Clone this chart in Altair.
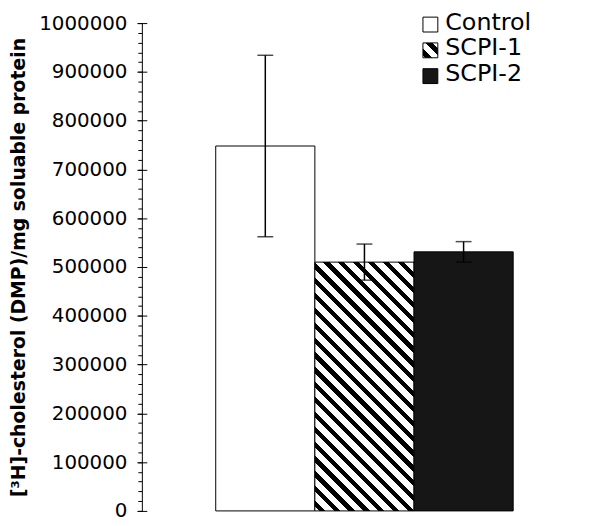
import math
import altair as alt
import pandas as pd

# ---- data ----
series = ["Control", "SCPI-1", "SCPI-2"]
means = [748000, 510000, 531000]
errors = [186000, 37000, 21000]
fills = ["#ffffff", "#ffffff", "#161616"]
major_ticks = [0, 100000, 200000, 300000, 400000, 500000, 600000, 700000, 800000, 900000, 1000000]
minor_ticks = list(range(0, 1000001, 20000))
y_title = "[³H]-cholesterol (DMP)/mg soluable protein"

W, H = 449, 492
BAR_W = 100
FONT = "DejaVu Sans"

df = pd.DataFrame({
    "group": ["all"] * len(series),
    "series": series,
    "mean": means,
    "lower": [m - e for m, e in zip(means, errors)],
    "upper": [m + e for m, e in zip(means, errors)],
})


def stripe_gradient(w, h, period, black_frac, phase):
    """Diagonal '\\' stripes built as a hard-stop linear gradient (bbox units)."""
    r = h / w
    a = (1 + r) / (1 + r * r)
    D = (w + h) / math.sqrt(2)
    pt = period / D
    clip = lambda v: min(max(v, 0.0), 1.0)
    stops = []
    s = phase / D - pt
    while s < 1:
        b1 = s + black_frac * pt
        e = s + pt
        for off, col in [(s, "black"), (b1, "black"), (b1, "white"), (e, "white")]:
            stops.append({"offset": round(clip(off), 5), "color": col})
        s += pt
    return {"gradient": "linear", "x1": 0, "y1": 1, "x2": round(a, 5),
            "y2": round(1 - a * r, 5), "stops": stops}


bar_h = means[1] / 1000000 * H
bar_grad = stripe_gradient(BAR_W, bar_h, 10.6, 0.42, 3)
leg_grad = stripe_gradient(15, 15, 10.6, 0.45, 2)

x_enc = alt.X("group:N", scale=alt.Scale(paddingInner=0, paddingOuter=0),
              axis=alt.Axis(title=None, labels=False, tickBand="extent", tickSize=5,
                            domainColor="black", tickColor="black", grid=False))
x_none = alt.X("group:N", axis=None)
xo = alt.XOffset("series:N", scale=alt.Scale(domain=series, paddingInner=0, paddingOuter=0.745))

yscale = alt.Scale(domain=[0, 1000000], nice=False, zero=True)
main_axis = alt.Axis(values=minor_ticks, tickSize=4, format="d",
                     labelExpr="datum.value % 100000 === 0 ? datum.label : ''",
                     labelFont=FONT, labelFontSize=20, labelColor="black",
                     labelPadding=11, labelOverlap=False,
                     title=y_title, titleFont=FONT, titleFontSize=19,
                     titleFontWeight="bold", titleColor="black", titlePadding=10,
                     domainColor="black", tickColor="black", grid=False)
cross_axis = alt.Axis(orient="left", offset=-5, values=major_ticks, tickSize=10,
                      labels=False, domain=False, title=None, grid=False,
                      tickColor="black")

base = alt.Chart(df)
bars = base.mark_bar(stroke="black", strokeWidth=1).encode(
    x=x_enc, xOffset=xo,
    y=alt.Y("mean:Q", scale=yscale, axis=main_axis),
    color=alt.condition(
        alt.datum.series == "SCPI-1",
        alt.value(bar_grad),
        alt.Color("series:N", scale=alt.Scale(domain=series, range=fills), legend=None),
    ),
)
rules = base.mark_rule(color="black", strokeWidth=1.5).encode(
    x=x_none, xOffset=xo,
    y=alt.Y("lower:Q", axis=None), y2="upper:Q",
)
caps_hi = base.mark_tick(color="black", size=16, thickness=1.5).encode(
    x=x_none, xOffset=xo, y=alt.Y("upper:Q", axis=cross_axis),
)
caps_lo = base.mark_tick(color="black", size=16, thickness=1.5).encode(
    x=x_none, xOffset=xo, y=alt.Y("lower:Q", axis=None),
)
plot = alt.layer(bars, rules, caps_hi, caps_lo).resolve_axis(y="independent")

# ---- legend drawn as marks ----
leg_y = alt.Y("series:N", scale=alt.Scale(domain=series, range=[1.5, 53.5], padding=0),
              axis=None)
leg_sym = base.mark_square(size=225, stroke="black", strokeWidth=1, opacity=1).encode(
    x=alt.value(291), y=leg_y,
    fill=alt.condition(
        alt.datum.series == "SCPI-1",
        alt.value(leg_grad),
        alt.Fill("series:N", scale=alt.Scale(domain=series, range=fills), legend=None),
    ),
)
leg_txt = base.mark_text(align="left", baseline="middle", font=FONT, fontSize=24,
                         color="black", dy=-2).encode(
    x=alt.value(306), y=leg_y, text="series:N",
)

chart = (
    alt.layer(plot, leg_sym, leg_txt)
    .resolve_scale(y="independent")
    .properties(width=W, height=H, autosize="none",
                padding={"left": 135, "top": 13, "right": 5, "bottom": 12},
                background="white")
    .configure_view(stroke=None)
)

chart.save("out.html", embed_options={"renderer": "svg", "actions": False})
